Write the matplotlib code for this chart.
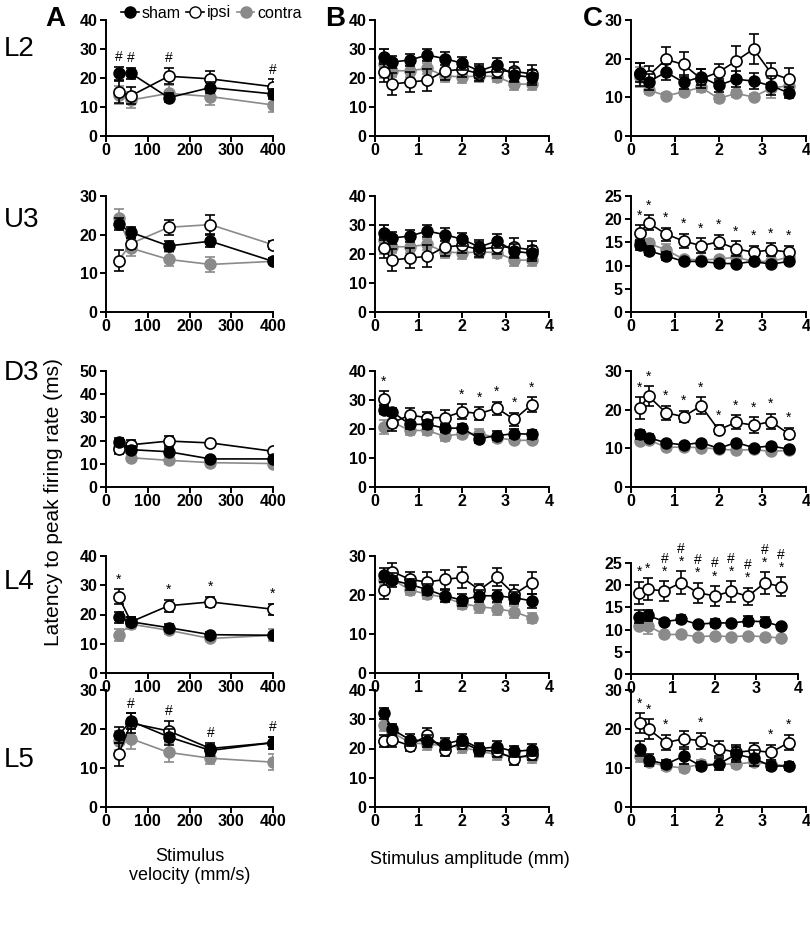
import matplotlib
matplotlib.use('Agg')
import matplotlib.pyplot as plt
from matplotlib.lines import Line2D

plt.rcParams['font.family'] = ['Liberation Sans', 'DejaVu Sans']

vel = [30, 60, 150, 250, 400]
amp = [0.2, 0.4, 0.8, 1.2, 1.6, 2.0, 2.4, 2.8, 3.2, 3.6]

# ---- L2 ----
L2_A_sham = [21.6, 21.6, 13.2, 16.7, 14.5]
L2_A_sham_err = [2.2, 1.8, 1.6, 2.0, 1.8]
L2_A_ipsi = [15.1, 13.9, 20.6, 19.7, 17.0]
L2_A_ipsi_err = [3.8, 3.0, 2.8, 2.8, 2.5]
L2_A_contra = [14.2, 12.4, 14.7, 13.6, 10.7]
L2_A_contra_err = [3.0, 2.8, 2.8, 2.8, 2.5]

L2_B_sham = [27.4, 25.5, 26.2, 27.9, 26.7, 25.1, 22.4, 24.5, 21.0, 20.2]
L2_B_sham_err = [2.5, 2.0, 2.0, 2.2, 2.2, 2.2, 2.5, 2.5, 2.5, 2.5]
L2_B_ipsi = [22.0, 17.9, 18.6, 19.2, 22.4, 23.0, 21.5, 22.5, 22.3, 21.4]
L2_B_ipsi_err = [3.5, 3.8, 3.5, 3.8, 3.0, 2.5, 2.5, 2.5, 3.2, 3.0]
L2_B_contra = [25.0, 22.5, 22.5, 23.3, 20.7, 20.4, 20.7, 20.5, 17.9, 17.9]
L2_B_contra_err = [5.0, 2.0, 2.0, 2.0, 2.0, 2.0, 2.0, 2.0, 2.0, 2.0]

L2_C_sham = [16.4, 14.0, 16.5, 13.9, 15.3, 13.1, 14.7, 14.2, 13.0, 11.2]
L2_C_sham_err = [2.5, 2.0, 2.0, 1.8, 2.0, 1.6, 2.0, 2.0, 2.5, 1.5]
L2_C_ipsi = [16.0, 15.6, 19.8, 18.5, 14.8, 16.5, 19.4, 22.5, 16.3, 14.7]
L2_C_ipsi_err = [3.0, 2.5, 3.2, 3.2, 2.5, 2.2, 3.8, 3.8, 2.5, 2.8]
L2_C_contra = [15.3, 11.9, 10.4, 11.4, 12.6, 9.7, 11.0, 10.1, 12.4, 13.0]
L2_C_contra_err = [2.5, 1.0, 0.8, 0.8, 1.2, 0.8, 1.0, 0.8, 2.5, 2.0]

# ---- U3 ----
U3_A_sham = [22.7, 20.6, 17.1, 18.3, 13.1]
U3_A_sham_err = [1.5, 1.5, 1.2, 1.5, 0.8]
U3_A_ipsi = [13.3, 17.7, 21.9, 22.6, 17.4]
U3_A_ipsi_err = [2.8, 1.5, 2.0, 2.5, 1.0]
U3_A_contra = [24.2, 16.5, 13.6, 12.3, 13.1]
U3_A_contra_err = [2.5, 2.0, 1.8, 2.0, 0.8]

U3_B_sham = L2_B_sham
U3_B_sham_err = L2_B_sham_err
U3_B_ipsi = L2_B_ipsi
U3_B_ipsi_err = L2_B_ipsi_err
U3_B_contra = L2_B_contra
U3_B_contra_err = L2_B_contra_err

U3_C_sham = [14.4, 13.2, 12.1, 10.9, 10.9, 10.5, 10.4, 10.9, 10.3, 10.9]
U3_C_sham_err = [1.0, 1.0, 0.8, 0.5, 0.5, 0.5, 0.5, 0.5, 0.5, 0.5]
U3_C_ipsi = [17.1, 19.2, 16.8, 15.3, 14.3, 15.1, 13.6, 12.9, 13.4, 12.9]
U3_C_ipsi_err = [1.6, 1.6, 1.4, 1.6, 1.6, 1.6, 1.6, 1.4, 1.4, 1.4]
U3_C_contra = [15.1, 14.8, 13.4, 11.4, 11.2, 11.4, 11.8, 10.9, 10.9, 11.8]
U3_C_contra_err = [1.0, 1.0, 1.2, 0.5, 0.5, 0.5, 0.8, 0.5, 0.5, 0.5]

# ---- D3 ----
D3_A_sham = [19.5, 16.1, 15.2, 12.1, 12.1]
D3_A_sham_err = [1.5, 1.5, 1.5, 1.0, 1.0]
D3_A_ipsi = [16.2, 18.2, 19.8, 19.0, 15.4]
D3_A_ipsi_err = [2.0, 2.0, 2.0, 1.0, 1.0]
D3_A_contra = [17.2, 12.6, 11.5, 10.5, 10.1]
D3_A_contra_err = [1.5, 1.5, 1.5, 1.0, 1.0]

D3_B_sham = [26.7, 25.9, 21.6, 21.6, 20.3, 20.3, 16.7, 17.7, 18.4, 18.2]
D3_B_sham_err = [1.5, 1.5, 1.5, 1.5, 1.5, 1.5, 1.5, 1.5, 1.5, 1.5]
D3_B_ipsi = [30.5, 22.2, 24.8, 23.9, 23.9, 26.0, 25.3, 27.2, 23.3, 28.4]
D3_B_ipsi_err = [2.5, 3.0, 2.5, 2.0, 2.5, 2.5, 2.2, 2.2, 2.2, 2.5]
D3_B_contra = [20.7, 22.4, 19.5, 19.5, 17.5, 18.4, 18.4, 17.0, 16.1, 16.1]
D3_B_contra_err = [2.5, 2.0, 1.5, 1.5, 1.5, 1.5, 1.5, 1.5, 1.0, 1.0]

D3_C_sham = [13.6, 12.8, 11.4, 10.9, 11.5, 10.0, 11.5, 10.2, 10.6, 9.8]
D3_C_sham_err = [1.2, 1.0, 0.5, 0.5, 0.5, 0.5, 0.5, 0.5, 0.5, 0.5]
D3_C_ipsi = [20.4, 23.5, 19.2, 18.2, 21.0, 14.8, 16.7, 16.0, 16.9, 13.8]
D3_C_ipsi_err = [2.8, 2.5, 1.8, 1.5, 2.2, 1.2, 1.8, 2.0, 2.0, 1.5]
D3_C_contra = [11.9, 12.2, 10.3, 10.3, 10.2, 9.8, 9.5, 9.7, 9.2, 9.5]
D3_C_contra_err = [0.8, 0.8, 0.5, 0.5, 0.5, 0.5, 0.5, 0.5, 0.5, 0.5]

# ---- L4 ----
L4_A_sham = [19.0, 17.5, 15.5, 13.1, 12.9]
L4_A_sham_err = [2.0, 1.5, 1.2, 0.8, 0.8]
L4_A_ipsi = [26.1, 17.5, 23.0, 24.3, 21.8]
L4_A_ipsi_err = [2.5, 1.5, 2.0, 1.8, 1.8]
L4_A_contra = [13.1, 16.7, 14.6, 11.8, 12.9]
L4_A_contra_err = [2.0, 1.5, 1.2, 1.0, 2.0]

L4_B_sham = [25.1, 23.8, 22.7, 21.4, 19.8, 18.7, 19.8, 19.8, 19.3, 18.5]
L4_B_sham_err = [1.8, 1.8, 1.5, 1.5, 1.5, 1.5, 1.5, 1.5, 1.5, 1.8]
L4_B_ipsi = [21.2, 26.0, 24.0, 23.3, 24.0, 24.5, 21.3, 24.5, 20.2, 23.1]
L4_B_ipsi_err = [2.2, 2.2, 2.0, 2.5, 2.5, 2.8, 1.5, 2.3, 2.3, 2.8]
L4_B_contra = [23.8, 24.0, 21.3, 20.2, 19.4, 17.8, 17.0, 16.5, 15.7, 14.1]
L4_B_contra_err = [1.5, 1.2, 1.2, 1.2, 1.2, 1.5, 1.5, 1.5, 1.5, 1.2]

L4_C_sham = [12.9, 13.2, 11.8, 12.3, 11.2, 11.5, 11.5, 11.9, 11.8, 10.7]
L4_C_sham_err = [1.5, 1.2, 0.6, 0.9, 0.5, 0.9, 0.5, 1.2, 1.0, 0.5]
L4_C_ipsi = [18.3, 19.1, 18.7, 20.6, 18.3, 17.6, 18.6, 17.5, 20.5, 19.7]
L4_C_ipsi_err = [2.5, 2.5, 2.2, 2.5, 2.2, 2.2, 2.3, 1.9, 2.4, 2.1]
L4_C_contra = [10.9, 10.9, 8.9, 8.9, 8.4, 8.6, 8.4, 8.6, 8.4, 8.1]
L4_C_contra_err = [0.8, 1.8, 0.5, 0.5, 0.4, 0.4, 0.4, 0.4, 0.4, 0.4]

# ---- L5 ----
L5_A_sham = [18.5, 22.0, 18.0, 14.5, 16.5]
L5_A_sham_err = [2.0, 2.0, 2.0, 1.5, 1.5]
L5_A_ipsi = [13.5, 21.5, 19.5, 15.0, 16.5]
L5_A_ipsi_err = [3.0, 2.5, 2.5, 1.5, 1.5]
L5_A_contra = [17.0, 17.5, 14.0, 12.5, 11.5]
L5_A_contra_err = [2.5, 2.5, 2.5, 1.5, 2.0]

L5_B_sham = [32.0, 26.5, 23.0, 22.5, 21.5, 23.0, 20.0, 20.5, 19.0, 19.5]
L5_B_sham_err = [2.0, 2.0, 2.0, 2.0, 2.0, 2.0, 2.0, 2.0, 2.0, 2.0]
L5_B_ipsi = [22.5, 23.0, 21.0, 24.5, 19.5, 22.0, 19.5, 19.0, 16.5, 18.0]
L5_B_ipsi_err = [2.0, 2.5, 2.0, 2.5, 2.0, 2.0, 2.0, 2.0, 2.0, 2.0]
L5_B_contra = [28.0, 25.5, 22.0, 21.5, 21.0, 20.5, 19.0, 18.0, 17.5, 17.0]
L5_B_contra_err = [2.0, 2.0, 2.0, 2.0, 2.0, 2.0, 2.0, 2.0, 2.0, 2.0]

L5_C_sham = [15.0, 12.0, 11.0, 13.0, 10.5, 11.0, 13.5, 12.5, 10.5, 10.5]
L5_C_sham_err = [2.0, 1.5, 1.0, 2.0, 1.0, 1.5, 2.0, 2.0, 1.0, 1.0]
L5_C_ipsi = [21.5, 20.0, 16.5, 17.5, 17.0, 15.0, 14.0, 14.5, 14.0, 16.5]
L5_C_ipsi_err = [2.5, 2.5, 2.0, 2.0, 2.0, 2.0, 2.0, 2.0, 2.0, 2.0]
L5_C_contra = [13.0, 11.5, 10.5, 10.0, 11.0, 11.0, 11.0, 11.5, 11.0, 10.5]
L5_C_contra_err = [1.5, 1.0, 1.0, 1.0, 1.0, 1.0, 1.0, 1.0, 1.0, 1.0]

# significance marks: (index, text)
L2_A_marks = [(0, '#'), (1, '#'), (2, '#'), (4, '#')]
U3_C_marks = [(i, '*') for i in range(10)]
D3_B_marks = [(0, '*'), (5, '*'), (6, '*'), (7, '*'), (8, '*'), (9, '*')]
D3_C_marks = [(i, '*') for i in range(10)]
L4_A_marks = [(0, '*'), (2, '*'), (3, '*'), (4, '*')]
L4_C_marks = [(0, '*'), (1, '*')] + [(i, '#\n*') for i in range(2, 10)]
L5_A_marks = [(1, '#'), (2, '#'), (3, '#'), (4, '#')]
L5_C_marks = [(0, '*'), (1, '*'), (2, '*'), (4, '*'), (8, '*'), (9, '*')]

row_names = ['L2', 'U3', 'D3', 'L4', 'L5']
GRAY = '#8a8a8a'

W, H = 810, 932
fig = plt.figure(figsize=(W / 100, H / 100), dpi=100)


def box(l, t, r, b):
    return [l / W, 1 - b / H, (r - l) / W, (b - t) / H]


col_x = [(106, 273), (375, 549), (631, 806)]
row_y = [(20, 136), (196, 312), (371, 487), (556, 673), (690, 807)]

panels = [
    [(vel, L2_A_sham, L2_A_sham_err, L2_A_ipsi, L2_A_ipsi_err, L2_A_contra, L2_A_contra_err, 40, 10, L2_A_marks),
     (amp, L2_B_sham, L2_B_sham_err, L2_B_ipsi, L2_B_ipsi_err, L2_B_contra, L2_B_contra_err, 40, 10, []),
     (amp, L2_C_sham, L2_C_sham_err, L2_C_ipsi, L2_C_ipsi_err, L2_C_contra, L2_C_contra_err, 30, 10, [])],
    [(vel, U3_A_sham, U3_A_sham_err, U3_A_ipsi, U3_A_ipsi_err, U3_A_contra, U3_A_contra_err, 30, 10, []),
     (amp, U3_B_sham, U3_B_sham_err, U3_B_ipsi, U3_B_ipsi_err, U3_B_contra, U3_B_contra_err, 40, 10, []),
     (amp, U3_C_sham, U3_C_sham_err, U3_C_ipsi, U3_C_ipsi_err, U3_C_contra, U3_C_contra_err, 25, 5, U3_C_marks)],
    [(vel, D3_A_sham, D3_A_sham_err, D3_A_ipsi, D3_A_ipsi_err, D3_A_contra, D3_A_contra_err, 50, 10, []),
     (amp, D3_B_sham, D3_B_sham_err, D3_B_ipsi, D3_B_ipsi_err, D3_B_contra, D3_B_contra_err, 40, 10, D3_B_marks),
     (amp, D3_C_sham, D3_C_sham_err, D3_C_ipsi, D3_C_ipsi_err, D3_C_contra, D3_C_contra_err, 30, 10, D3_C_marks)],
    [(vel, L4_A_sham, L4_A_sham_err, L4_A_ipsi, L4_A_ipsi_err, L4_A_contra, L4_A_contra_err, 40, 10, L4_A_marks),
     (amp, L4_B_sham, L4_B_sham_err, L4_B_ipsi, L4_B_ipsi_err, L4_B_contra, L4_B_contra_err, 30, 10, []),
     (amp, L4_C_sham, L4_C_sham_err, L4_C_ipsi, L4_C_ipsi_err, L4_C_contra, L4_C_contra_err, 25, 5, L4_C_marks)],
    [(vel, L5_A_sham, L5_A_sham_err, L5_A_ipsi, L5_A_ipsi_err, L5_A_contra, L5_A_contra_err, 30, 10, L5_A_marks),
     (amp, L5_B_sham, L5_B_sham_err, L5_B_ipsi, L5_B_ipsi_err, L5_B_contra, L5_B_contra_err, 40, 10, []),
     (amp, L5_C_sham, L5_C_sham_err, L5_C_ipsi, L5_C_ipsi_err, L5_C_contra, L5_C_contra_err, 30, 10, L5_C_marks)],
]

for r in range(5):
    for c in range(3):
        x, sh, she, ip, ipe, co, coe, ymax, ystep, marks = panels[r][c]
        l, rgt = col_x[c]
        t, b = row_y[r]
        if r == 3 and c == 2:
            t, b, rgt = 563, 674, 798
        ax = fig.add_axes(box(l, t, rgt, b))
        ax.set_facecolor('none')
        ipsi_line = GRAY if (r == 1 and c == 0) else 'black'
        ax.errorbar(x, co, yerr=coe, color=GRAY, ecolor=GRAY, marker='o', ms=8,
                    mfc=GRAY, mec=GRAY, lw=1.2, elinewidth=1.2, capsize=3.5, capthick=1.2, zorder=2)
        ax.errorbar(x, ip, yerr=ipe, color=ipsi_line, ecolor='black', marker='o', ms=8,
                    mfc='white', mec='black', mew=1.2, lw=1.2, elinewidth=1.2, capsize=3.5, capthick=1.2, zorder=3)
        ax.errorbar(x, sh, yerr=she, color='black', ecolor='black', marker='o', ms=8,
                    mfc='black', mec='black', lw=1.2, elinewidth=1.2, capsize=3.5, capthick=1.2, zorder=4)
        for i, txt in marks:
            top = max(sh[i] + she[i], ip[i] + ipe[i], co[i] + coe[i])
            ax.annotate(txt, (x[i], top), xytext=(0, 2), textcoords='offset points',
                        ha='center', va='bottom', fontsize=10, linespacing=0.9,
                        annotation_clip=False)
        if c == 0:
            ax.set_xlim(0, 400)
            ax.set_xticks([0, 100, 200, 300, 400])
        else:
            ax.set_xlim(0, 4)
            ax.set_xticks([0, 1, 2, 3, 4])
        ax.set_ylim(0, ymax)
        ax.set_yticks(list(range(0, ymax + 1, ystep)))
        for s in ['top', 'right']:
            ax.spines[s].set_visible(False)
        for s in ['left', 'bottom']:
            ax.spines[s].set_linewidth(1.4)
        ax.tick_params(direction='out', length=4, width=1.4, labelsize=11.5, pad=1)
        ax.tick_params(axis='y', pad=2)
        for lab in ax.get_xticklabels() + ax.get_yticklabels():
            lab.set_fontweight('bold')

row_label_y = [49, 220, 373, 582, 760]
for name, yy in zip(row_names, row_label_y):
    fig.text(4 / W, 1 - yy / H, name, fontsize=20, ha='left', va='center')

for letter, xx in zip(['A', 'B', 'C'], [45, 325, 583]):
    fig.text(xx / W, 1 - 19 / H, letter, fontsize=20, fontweight='bold', ha='left', va='center')

handles = [
    Line2D([], [], color='black', marker='o', ms=8, mfc='black', lw=1.2),
    Line2D([], [], color='black', marker='o', ms=8, mfc='white', lw=1.2),
    Line2D([], [], color=GRAY, marker='o', ms=8, mfc=GRAY, mec=GRAY, lw=1.2),
]
fig.legend(handles, ['sham', 'ipsi', 'contra'], loc='center left', ncol=3,
           bbox_to_anchor=(113 / W, 1 - 13 / H), frameon=False, fontsize=11.5,
           handlelength=1.1, handletextpad=0.2, columnspacing=0.35, borderpad=0)

fig.text(54 / W, 1 - 502 / H, 'Latency to peak firing rate (ms)', rotation=90,
         fontsize=15, ha='center', va='center')
fig.text(190 / W, 1 - 866 / H, 'Stimulus\nvelocity (mm/s)', fontsize=13,
         ha='center', va='center', linespacing=1.1)
fig.text(470 / W, 1 - 860 / H, 'Stimulus amplitude (mm)', fontsize=13,
         ha='center', va='center')

fig.savefig('out.png', dpi=100)
